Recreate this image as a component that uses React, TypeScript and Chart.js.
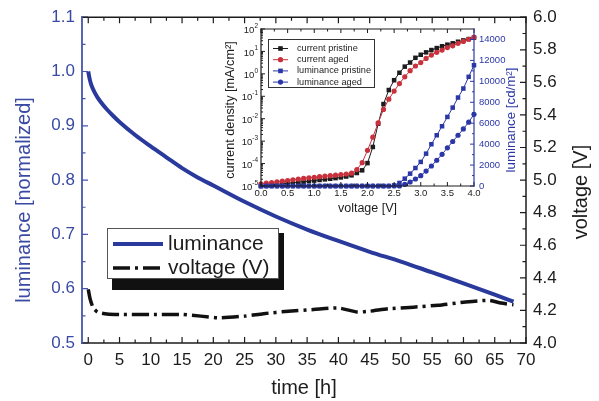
import React, { useEffect, useRef } from "react";
import { Chart, registerables } from "chart.js";

Chart.register(...registerables);

// ---- lifetime test: normalized luminance and drive voltage vs. time ----
const timeLum = [0, 0.25, 0.5, 1, 1.5, 2, 3, 4, 5, 7.5, 10, 12.5, 15, 17.5, 20, 25, 30, 35, 40, 45, 50, 55, 60, 65, 68];
const lumNorm = [1.0, 0.985, 0.975, 0.962, 0.952, 0.944, 0.93, 0.918, 0.907, 0.883, 0.862, 0.842, 0.822, 0.805, 0.79, 0.76, 0.733, 0.709, 0.688, 0.668, 0.65, 0.63, 0.61, 0.589, 0.576];

const timeVolt = [0, 0.3, 0.8, 1.5, 3, 5, 10, 15, 18, 21, 25, 28, 32, 36, 40, 43, 45, 48, 52, 56, 60, 64, 66, 68];
const driveVolt = [4.33, 4.27, 4.215, 4.19, 4.178, 4.175, 4.175, 4.175, 4.165, 4.155, 4.165, 4.18, 4.195, 4.205, 4.215, 4.19, 4.195, 4.21, 4.22, 4.232, 4.25, 4.262, 4.245, 4.235];

const timeTicks = [0, 5, 10, 15, 20, 25, 30, 35, 40, 45, 50, 55, 60, 65, 70];
const lumTicks = [0.5, 0.6, 0.7, 0.8, 0.9, 1.0, 1.1];
const voltTicks = [4.0, 4.2, 4.4, 4.6, 4.8, 5.0, 5.2, 5.4, 5.6, 5.8, 6.0];

// ---- inset: current density and luminance vs. bias ----
const biasV = [0.0, 0.1, 0.2, 0.3, 0.4, 0.5, 0.6, 0.7, 0.8, 0.9, 1.0, 1.1, 1.2, 1.3, 1.4, 1.5, 1.6, 1.7, 1.8, 1.9, 2.0, 2.1, 2.2, 2.3, 2.4, 2.5, 2.6, 2.7, 2.8, 2.9, 3.0, 3.1, 3.2, 3.3, 3.4, 3.5, 3.6, 3.7, 3.8, 3.9, 4.0];
const jPristine = [1.0e-5, 1.06e-5, 1.12e-5, 1.18e-5, 1.25e-5, 1.32e-5, 1.4e-5, 1.48e-5, 1.56e-5, 1.65e-5, 1.75e-5, 1.86e-5, 1.98e-5, 2.1e-5, 2.25e-5, 2.42e-5, 2.65e-5, 3.0e-5, 3.8e-5, 5.0e-5, 1.05e-4, 5.5e-4, 6.0e-3, 4.5e-2, 0.19, 0.52, 1.12, 2.1, 3.2, 5.2, 7.1, 9.1, 11.5, 14.1, 17, 20, 23, 27, 31, 35.5, 40.7];
const jAged = [1.26e-5, 1.34e-5, 1.43e-5, 1.53e-5, 1.64e-5, 1.76e-5, 1.9e-5, 2.03e-5, 2.17e-5, 2.31e-5, 2.45e-5, 2.6e-5, 2.75e-5, 2.9e-5, 3.05e-5, 3.22e-5, 3.42e-5, 3.75e-5, 5.4e-5, 1.1e-4, 3.9e-4, 1.5e-3, 6.5e-3, 2.6e-2, 7.4e-2, 0.17, 0.37, 0.74, 1.38, 2.24, 3.2, 4.9, 6.9, 9.1, 11.5, 14.8, 17.8, 22.9, 28, 35, 43];
const lPristine = [0, 0, 0, 0, 0, 0, 0, 0, 0, 0, 0, 0, 0, 0, 0, 0, 0, 0, 0, 0, 0, 0, 0, 0, 0, 60, 290, 700, 1180, 1720, 2300, 3090, 3990, 4850, 5710, 6600, 7490, 8450, 9310, 10430, 11540];
const lAged = [0, 0, 0, 0, 0, 0, 0, 0, 0, 0, 0, 0, 0, 0, 0, 0, 0, 0, 0, 0, 0, 0, 0, 0, 0, 0, 0, 160, 380, 670, 990, 1430, 1910, 2460, 3030, 3650, 4250, 4850, 5450, 6100, 6850];

const biasTicks = [0, 0.5, 1.0, 1.5, 2.0, 2.5, 3.0, 3.5, 4.0];
const jDecades = [1e-5, 1e-4, 1e-3, 1e-2, 1e-1, 1, 10, 100];
const lumCdTicks = [0, 2000, 4000, 6000, 8000, 10000, 12000, 14000];

const FONT = '"Liberation Sans", Arial, Helvetica, sans-serif';
const INK = "#1c1c1c";
const AXIS_BLUE = "#4656aa";
const LABEL_BLUE = "#3a4aa2";
const CURVE_BLUE = "#2a3a9c";
const INSET_RED = "#c8323c";
const INSET_BLUE = "#2b37a6";

const midpoints = (arr: number[]) => arr.slice(0, -1).map((v, i) => (v + arr[i + 1]) / 2);

type Side = "left" | "right" | "top" | "bottom";

function tickMarks(ctx: CanvasRenderingContext2D, scale: any, a: any, side: Side, values: number[], len: number, color: string, width: number) {
  ctx.save();
  ctx.strokeStyle = color;
  ctx.lineWidth = width;
  ctx.beginPath();
  for (const v of values) {
    const p = scale.getPixelForValue(v);
    if (side === "left" || side === "right") {
      if (p < a.top - 0.5 || p > a.bottom + 0.5) continue;
      const x0 = side === "left" ? a.left : a.right;
      const dx = side === "left" ? len : -len;
      ctx.moveTo(x0, p);
      ctx.lineTo(x0 + dx, p);
    } else {
      if (p < a.left - 0.5 || p > a.right + 0.5) continue;
      const y0 = side === "bottom" ? a.bottom : a.top;
      const dy = side === "bottom" ? -len : len;
      ctx.moveTo(p, y0);
      ctx.lineTo(p, y0 + dy);
    }
  }
  ctx.stroke();
  ctx.restore();
}

function frame(ctx: CanvasRenderingContext2D, a: any, colors: Record<Side, string>, widths: Record<Side, number>) {
  const seg = (x1: number, y1: number, x2: number, y2: number, c: string, w: number) => {
    ctx.strokeStyle = c;
    ctx.lineWidth = w;
    ctx.beginPath();
    ctx.moveTo(x1, y1);
    ctx.lineTo(x2, y2);
    ctx.stroke();
  };
  ctx.save();
  ctx.lineCap = "square";
  seg(a.left, a.top, a.right, a.top, colors.top, widths.top);
  seg(a.left, a.bottom, a.right, a.bottom, colors.bottom, widths.bottom);
  seg(a.right, a.top, a.right, a.bottom, colors.right, widths.right);
  seg(a.left, a.top, a.left, a.bottom, colors.left, widths.left);
  ctx.restore();
}

function label(ctx: CanvasRenderingContext2D, text: string, x: number, y: number, rot: number, size: number, color: string, align: CanvasTextAlign = "center") {
  ctx.save();
  ctx.translate(x, y);
  ctx.rotate(rot);
  ctx.font = `${size}px ${FONT}`;
  ctx.fillStyle = color;
  ctx.textAlign = align;
  ctx.textBaseline = "middle";
  ctx.fillText(text, 0, 0);
  ctx.restore();
}

const mainDecor = {
  id: "mainDecor",
  afterDatasetsDraw(chart: any) {
    const { ctx, chartArea: a, scales } = chart;
    const tMinor = midpoints(timeTicks);
    const lMinor = midpoints(lumTicks);
    const vMinor = midpoints(voltTicks);

    tickMarks(ctx, scales.x, a, "bottom", timeTicks, 6, INK, 1.2);
    tickMarks(ctx, scales.x, a, "bottom", tMinor, 3.5, INK, 1.2);
    tickMarks(ctx, scales.x, a, "top", timeTicks, 6, INK, 1.2);
    tickMarks(ctx, scales.x, a, "top", tMinor, 3.5, INK, 1.2);
    tickMarks(ctx, scales.y, a, "left", lumTicks, 6, AXIS_BLUE, 1.2);
    tickMarks(ctx, scales.y, a, "left", lMinor, 3.5, AXIS_BLUE, 1.2);
    tickMarks(ctx, scales.y1, a, "right", voltTicks, 6, INK, 1.2);
    tickMarks(ctx, scales.y1, a, "right", vMinor, 3.5, INK, 1.2);

    frame(ctx, a, { top: INK, bottom: INK, right: INK, left: AXIS_BLUE }, { top: 1.5, bottom: 1.5, right: 1.5, left: 1.8 });

    // axis titles
    label(ctx, "luminance [normalized]", 24, 200, -Math.PI / 2, 20, LABEL_BLUE);
    label(ctx, "voltage [V]", 581, 192, -Math.PI / 2, 20, INK);
    label(ctx, "time [h]", (a.left + a.right) / 2, 388, 0, 20, INK);

    // legend with drop shadow
    const bx = 107, by = 228, bw = 172, bh = 51;
    ctx.save();
    ctx.fillStyle = "#111";
    ctx.fillRect(bx + 5, by + 5, bw, bh + 6);
    ctx.fillStyle = "#fff";
    ctx.fillRect(bx, by, bw, bh);
    ctx.strokeStyle = "#555";
    ctx.lineWidth = 1;
    ctx.strokeRect(bx + 0.5, by + 0.5, bw - 1, bh - 1);
    chart.data.datasets.forEach((ds: any, i: number) => {
      const y = by + 16 + i * 24;
      ctx.save();
      ctx.strokeStyle = ds.borderColor;
      ctx.lineWidth = ds.borderWidth;
      ctx.setLineDash(ds.borderDash || []);
      ctx.beginPath();
      ctx.moveTo(bx + 6, y);
      ctx.lineTo(bx + 56, y);
      ctx.stroke();
      ctx.restore();
      label(ctx, ds.label, bx + 61, y, 0, 21, INK, "left");
    });
    ctx.restore();
  },
};

const insetDecor = {
  id: "insetDecor",
  afterDatasetsDraw(chart: any) {
    const { ctx, chartArea: a, scales } = chart;
    const jMinor: number[] = [];
    jDecades.slice(0, -1).forEach((d) => {
      for (let k = 2; k <= 9; k++) jMinor.push(d * k);
    });
    const bMinor = midpoints(biasTicks);
    const cdMinor = [...midpoints(lumCdTicks), 15000 - 1000];

    tickMarks(ctx, scales.x, a, "bottom", biasTicks, 4, INK, 1);
    tickMarks(ctx, scales.x, a, "bottom", bMinor, 2.5, INK, 1);
    tickMarks(ctx, scales.x, a, "top", biasTicks, 4, INK, 1);
    tickMarks(ctx, scales.x, a, "top", bMinor, 2.5, INK, 1);
    tickMarks(ctx, scales.j, a, "left", jDecades, 4, INK, 1);
    tickMarks(ctx, scales.j, a, "left", jMinor, 2, INK, 1);
    tickMarks(ctx, scales.l, a, "right", lumCdTicks, 4, INSET_BLUE, 1);
    tickMarks(ctx, scales.l, a, "right", cdMinor, 2, INSET_BLUE, 1);

    frame(ctx, a, { top: INK, bottom: INK, right: INSET_BLUE, left: INK }, { top: 1.2, bottom: 1.2, right: 1.2, left: 1.2 });

    // decade labels with raised exponents
    ctx.save();
    ctx.fillStyle = INK;
    ctx.textBaseline = "middle";
    ctx.textAlign = "left";
    for (const d of jDecades) {
      const y = scales.j.getPixelForValue(d);
      const e = String(Math.round(Math.log10(d)));
      ctx.font = `6.5px ${FONT}`;
      const we = ctx.measureText(e).width;
      ctx.font = `9.5px ${FONT}`;
      const wb = ctx.measureText("10").width;
      const right = a.left - 3;
      ctx.fillText("10", right - we - wb, y + 1.5);
      ctx.font = `6.5px ${FONT}`;
      ctx.fillText(e, right - we, y - 3);
    }
    ctx.restore();

    label(ctx, "current density [mA/cm²]", 30, 98, -Math.PI / 2, 12.7, INK);
    label(ctx, "luminance [cd/m²]", 311, 108, -Math.PI / 2, 13.3, INSET_BLUE);
    label(ctx, "voltage [V]", 167.5, 197, 0, 12.5, INK);

    // legend
    const bx = a.left + 7, by = a.top + 10, bw = 107, bh = 49;
    ctx.save();
    ctx.fillStyle = "#fff";
    ctx.fillRect(bx, by, bw, bh);
    ctx.strokeStyle = "#333";
    ctx.lineWidth = 1;
    ctx.strokeRect(bx + 0.5, by + 0.5, bw - 1, bh - 1);
    chart.data.datasets.forEach((ds: any, i: number) => {
      const y = by + 9.5 + i * 11.2;
      ctx.strokeStyle = ds.borderColor;
      ctx.lineWidth = 1;
      ctx.beginPath();
      ctx.moveTo(bx + 5, y);
      ctx.lineTo(bx + 20, y);
      ctx.stroke();
      ctx.fillStyle = ds.backgroundColor;
      const mx = bx + 12.5;
      if (ds.pointStyle === "rect") {
        ctx.fillRect(mx - 2.3, y - 2.3, 4.6, 4.6);
      } else {
        ctx.beginPath();
        ctx.arc(mx, y, 2.6, 0, Math.PI * 2);
        ctx.fill();
      }
      label(ctx, ds.label, bx + 29, y, 0, 9.2, INK, "left");
    });
    ctx.restore();
  },
};

export default function App() {
  const mainRef = useRef<HTMLCanvasElement>(null);
  const insetRef = useRef<HTMLCanvasElement>(null);

  useEffect(() => {
    const tickFont = { family: FONT, size: 17 };
    const main = new Chart(mainRef.current!, {
      type: "line",
      data: {
        datasets: [
          {
            label: "luminance",
            data: timeLum.map((t, i) => ({ x: t, y: lumNorm[i] })),
            yAxisID: "y",
            borderColor: CURVE_BLUE,
            backgroundColor: CURVE_BLUE,
            borderWidth: 4,
            pointRadius: 0,
            tension: 0.4,
            cubicInterpolationMode: "monotone",
          },
          {
            label: "voltage (V)",
            data: timeVolt.map((t, i) => ({ x: t, y: driveVolt[i] })),
            yAxisID: "y1",
            borderColor: "#111111",
            backgroundColor: "#111111",
            borderWidth: 3.5,
            borderDash: [17, 5, 3, 5],
            pointRadius: 0,
            tension: 0.2,
          },
        ],
      },
      options: {
        animation: false,
        responsive: false,
        events: [],
        layout: { padding: { top: 15, left: 0, right: 0, bottom: 0 } },
        plugins: { legend: { display: false }, tooltip: { enabled: false } },
        scales: {
          x: {
            type: "linear",
            min: -1,
            max: 70,
            grid: { display: false, drawTicks: false },
            border: { display: false },
            afterBuildTicks: (s: any) => {
              s.ticks = timeTicks.map((v) => ({ value: v }));
            },
            afterFit: (s: any) => {
              s.height = 58;
            },
            ticks: { font: tickFont, color: INK, padding: 7, maxRotation: 0, autoSkip: false, callback: (v: any) => String(v) },
          },
          y: {
            type: "linear",
            position: "left",
            min: 0.5,
            max: 1.1,
            grid: { display: false, drawTicks: false },
            border: { display: false },
            afterBuildTicks: (s: any) => {
              s.ticks = lumTicks.map((v) => ({ value: v }));
            },
            afterFit: (s: any) => {
              s.width = 82;
            },
            ticks: { font: tickFont, color: LABEL_BLUE, padding: 7, callback: (v: any) => Number(v).toFixed(1) },
          },
          y1: {
            type: "linear",
            position: "right",
            min: 4,
            max: 6,
            grid: { display: false, drawTicks: false },
            border: { display: false },
            afterBuildTicks: (s: any) => {
              s.ticks = voltTicks.map((v) => ({ value: v }));
            },
            afterFit: (s: any) => {
              s.width = 73;
            },
            ticks: { font: tickFont, color: INK, padding: 7, callback: (v: any) => Number(v).toFixed(1) },
          },
        },
      },
      plugins: [mainDecor],
    } as any);

    const smallFont = { family: FONT, size: 9.5 };
    const inset = new Chart(insetRef.current!, {
      type: "line",
      data: {
        datasets: [
          {
            label: "current pristine",
            data: biasV.map((v, i) => ({ x: v, y: jPristine[i] })),
            yAxisID: "j",
            borderColor: INK,
            backgroundColor: INK,
            borderWidth: 1,
            pointStyle: "rect",
            pointRadius: 3.2,
            pointBorderWidth: 0,
            clip: 6,
            order: 3,
          },
          {
            label: "current aged",
            data: biasV.map((v, i) => ({ x: v, y: jAged[i] })),
            yAxisID: "j",
            borderColor: INSET_RED,
            backgroundColor: INSET_RED,
            borderWidth: 1,
            pointStyle: "circle",
            pointRadius: 2.6,
            pointBorderWidth: 0,
            clip: 6,
            order: 2,
          },
          {
            label: "luminance pristine",
            data: biasV.map((v, i) => ({ x: v, y: lPristine[i] })),
            yAxisID: "l",
            borderColor: INSET_BLUE,
            backgroundColor: INSET_BLUE,
            borderWidth: 1,
            pointStyle: "rect",
            pointRadius: 3.2,
            pointBorderWidth: 0,
            clip: 6,
            order: 1,
          },
          {
            label: "luminance aged",
            data: biasV.map((v, i) => ({ x: v, y: lAged[i] })),
            yAxisID: "l",
            borderColor: INSET_BLUE,
            backgroundColor: INSET_BLUE,
            borderWidth: 1,
            pointStyle: "circle",
            pointRadius: 2.6,
            pointBorderWidth: 0,
            clip: 6,
            order: 0,
          },
        ],
      },
      options: {
        animation: false,
        responsive: false,
        events: [],
        layout: { padding: { top: 17, left: 0, right: 0, bottom: 0 } },
        plugins: { legend: { display: false }, tooltip: { enabled: false } },
        scales: {
          x: {
            type: "linear",
            min: 0,
            max: 4,
            grid: { display: false, drawTicks: false },
            border: { display: false },
            afterBuildTicks: (s: any) => {
              s.ticks = biasTicks.map((v) => ({ value: v }));
            },
            afterFit: (s: any) => {
              s.height = 41;
            },
            ticks: { font: smallFont, color: INK, padding: 2, maxRotation: 0, autoSkip: false, callback: (v: any) => Number(v).toFixed(1) },
          },
          j: {
            type: "logarithmic",
            position: "left",
            min: 1e-5,
            max: 100,
            grid: { display: false, drawTicks: false },
            border: { display: false },
            afterBuildTicks: (s: any) => {
              s.ticks = jDecades.map((v) => ({ value: v }));
            },
            afterFit: (s: any) => {
              s.width = 61;
            },
            ticks: { display: false },
          },
          l: {
            type: "linear",
            position: "right",
            min: 0,
            max: 15000,
            grid: { display: false, drawTicks: false },
            border: { display: false },
            afterBuildTicks: (s: any) => {
              s.ticks = lumCdTicks.map((v) => ({ value: v }));
            },
            afterFit: (s: any) => {
              s.width = 71;
            },
            ticks: { font: smallFont, color: INSET_BLUE, padding: 5, callback: (v: any) => String(v) },
          },
        },
      },
      plugins: [insetDecor],
    } as any);

    return () => {
      main.destroy();
      inset.destroy();
    };
  }, []);

  return (
    <div style={{ position: "absolute", left: 0, top: 0, width: 599, height: 401, background: "#fff" }}>
      <canvas ref={mainRef} width={599} height={401} style={{ position: "absolute", left: 0, top: 0, width: 599, height: 401 }} />
      <canvas ref={insetRef} width={345} height={215} style={{ position: "absolute", left: 200, top: 12, width: 345, height: 215 }} />
    </div>
  );
}
